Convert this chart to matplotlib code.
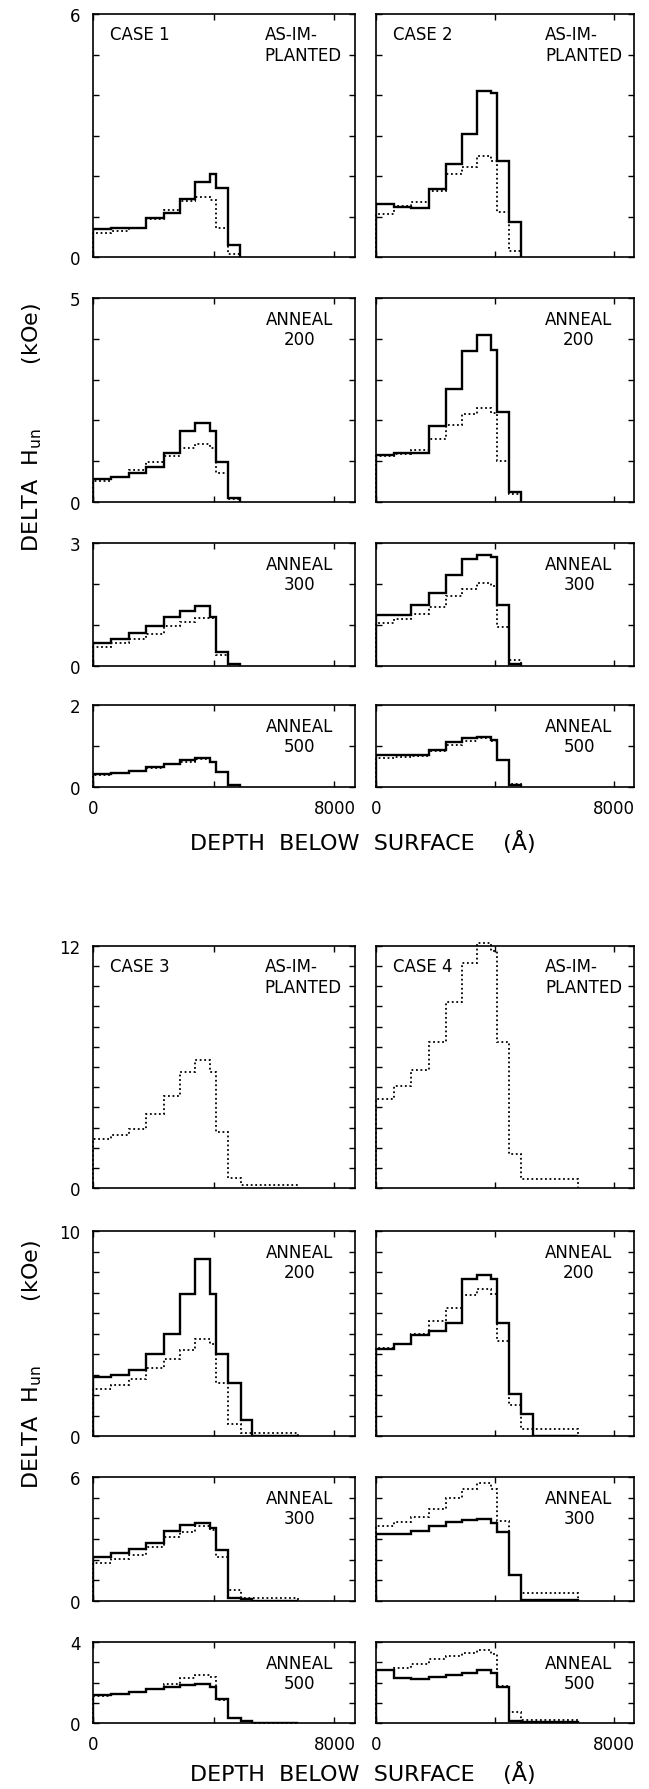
import matplotlib
matplotlib.use("Agg")
import matplotlib.pyplot as plt

plt.rcParams['font.family'] = ['DejaVu Sans']

# bin edges (depth in Angstrom)
EDGES_12 = [0, 590, 1180, 1770, 2350, 2880, 3390, 3880, 4060, 4480, 4880]
EDGES_34 = [0, 590, 1180, 1770, 2350, 2880, 3390, 3880, 4060, 4480, 4890, 5270, 6800]

# case 1 (solid / dotted), kOe
c1_asimp_solid = [0.70, 0.71, 0.72, 0.96, 1.08, 1.44, 1.85, 2.05, 1.71, 0.30]
c1_asimp_dot = [0.59, 0.64, 0.71, 0.94, 1.17, 1.38, 1.48, 1.40, 0.71, 0.08]
c1_a200_solid = [0.56, 0.62, 0.72, 0.87, 1.21, 1.73, 1.93, 1.74, 0.98, 0.11]
c1_a200_dot = [0.52, 0.62, 0.78, 0.98, 1.13, 1.33, 1.43, 1.33, 0.72, 0.08]
c1_a300_solid = [0.55, 0.66, 0.81, 0.97, 1.19, 1.33, 1.47, 1.19, 0.34, 0.05]
c1_a300_dot = [0.47, 0.55, 0.67, 0.79, 0.97, 1.08, 1.18, 1.16, 0.28, 0.04]
c1_a500_solid = [0.32, 0.34, 0.40, 0.49, 0.57, 0.65, 0.70, 0.61, 0.36, 0.06]
c1_a500_dot = [0.30, 0.33, 0.38, 0.46, 0.56, 0.62, 0.68, 0.62, 0.37, 0.05]

# case 2
c2_asimp_solid = [1.31, 1.23, 1.22, 1.68, 2.30, 3.04, 4.09, 4.04, 2.37, 0.86]
c2_asimp_dot = [1.07, 1.27, 1.36, 1.62, 2.05, 2.22, 2.49, 2.38, 1.11, 0.14]
c2_a200_solid = [1.15, 1.19, 1.19, 1.86, 2.78, 3.70, 4.10, 3.72, 2.20, 0.24]
c2_a200_dot = [1.12, 1.17, 1.27, 1.54, 1.89, 2.15, 2.31, 2.19, 1.00, 0.19]
c2_a300_solid = [1.24, 1.24, 1.48, 1.79, 2.22, 2.62, 2.71, 2.65, 1.48, 0.04]
c2_a300_dot = [1.06, 1.14, 1.26, 1.45, 1.71, 1.88, 2.02, 1.96, 0.94, 0.14]
c2_a500_solid = [0.79, 0.79, 0.79, 0.91, 1.09, 1.20, 1.22, 1.14, 0.66, 0.06]
c2_a500_dot = [0.70, 0.72, 0.76, 0.88, 1.03, 1.13, 1.19, 1.12, 0.66, 0.08]

# case 3 (no solid curve as-implanted)
c3_asimp_dot = [2.44, 2.64, 2.93, 3.67, 4.58, 5.73, 6.36, 5.73, 2.80, 0.49, 0.16, 0.16]
c3_a200_solid = [2.89, 2.98, 3.22, 4.00, 4.96, 6.94, 8.62, 6.94, 3.98, 2.60, 0.78, 0.0]
c3_a200_dot = [2.31, 2.47, 2.80, 3.33, 3.74, 4.20, 4.75, 4.47, 2.57, 0.57, 0.16, 0.13]
c3_a300_solid = [2.11, 2.30, 2.54, 2.79, 3.37, 3.68, 3.78, 3.52, 2.48, 0.13, 0.08, 0.0]
c3_a300_dot = [1.86, 2.03, 2.22, 2.63, 3.08, 3.35, 3.65, 3.45, 2.11, 0.52, 0.15, 0.15]
c3_a500_solid = [1.38, 1.43, 1.54, 1.67, 1.80, 1.89, 1.95, 1.80, 1.18, 0.23, 0.11, 0.0]
c3_a500_dot = [1.33, 1.41, 1.52, 1.70, 1.93, 2.20, 2.38, 2.25, 1.15, 0.25, 0.10, 0.0]

# case 4
c4_asimp_dot = [4.39, 5.05, 5.84, 7.26, 9.23, 11.15, 12.13, 11.77, 7.26, 1.70, 0.44, 0.44]
c4_a200_solid = [4.23, 4.50, 4.91, 5.12, 5.50, 7.67, 7.84, 7.67, 5.50, 2.03, 1.06, 0.0]
c4_a200_dot = [4.31, 4.50, 4.96, 5.61, 6.26, 6.86, 7.15, 6.91, 4.63, 1.50, 0.36, 0.36]
c4_a300_solid = [3.24, 3.24, 3.40, 3.61, 3.81, 3.92, 3.97, 3.78, 3.32, 1.25, 0.05, 0.05]
c4_a300_dot = [3.61, 3.84, 4.05, 4.46, 4.98, 5.43, 5.71, 5.43, 3.89, 1.25, 0.37, 0.37]
c4_a500_solid = [2.62, 2.21, 2.16, 2.28, 2.36, 2.49, 2.61, 2.46, 1.79, 0.11, 0.07, 0.07]
c4_a500_dot = [2.62, 2.74, 2.90, 3.15, 3.31, 3.48, 3.59, 3.39, 1.84, 0.52, 0.15, 0.15]

ROW_LABELS = [None, "200", "300", "500"]
YMAX = [6, 5, 3, 2, 12, 10, 6, 4]

# layout in pixels
W, H = 649, 1790
COL_X = [93, 376]
COL_W = [262, 258]
ROW_TOP = [15, 299, 544, 706, 947, 1232, 1478, 1643]
ROW_H = [243, 204, 123, 82, 242, 205, 124, 81]

fig = plt.figure(figsize=(W / 100, H / 100), dpi=100)

panels = [
    # (row, col, edges, solid, dotted, case)
    (0, 0, EDGES_12, c1_asimp_solid, c1_asimp_dot, 1),
    (1, 0, EDGES_12, c1_a200_solid, c1_a200_dot, None),
    (2, 0, EDGES_12, c1_a300_solid, c1_a300_dot, None),
    (3, 0, EDGES_12, c1_a500_solid, c1_a500_dot, None),
    (0, 1, EDGES_12, c2_asimp_solid, c2_asimp_dot, 2),
    (1, 1, EDGES_12, c2_a200_solid, c2_a200_dot, None),
    (2, 1, EDGES_12, c2_a300_solid, c2_a300_dot, None),
    (3, 1, EDGES_12, c2_a500_solid, c2_a500_dot, None),
    (4, 0, EDGES_34, None, c3_asimp_dot, 3),
    (5, 0, EDGES_34, c3_a200_solid, c3_a200_dot, None),
    (6, 0, EDGES_34, c3_a300_solid, c3_a300_dot, None),
    (7, 0, EDGES_34, c3_a500_solid, c3_a500_dot, None),
    (4, 1, EDGES_34, None, c4_asimp_dot, 4),
    (5, 1, EDGES_34, c4_a200_solid, c4_a200_dot, None),
    (6, 1, EDGES_34, c4_a300_solid, c4_a300_dot, None),
    (7, 1, EDGES_34, c4_a500_solid, c4_a500_dot, None),
]

TXT = 12
for row, col, edges, solid, dotted, case in panels:
    rect = [COL_X[col] / W, 1 - (ROW_TOP[row] + ROW_H[row]) / H,
            COL_W[col] / W, ROW_H[row] / H]
    ax = fig.add_axes(rect)
    ymax = YMAX[row]
    if solid is not None:
        ax.stairs(solid, edges, baseline=0, color='black', lw=1.7)
    ax.stairs(dotted, edges, baseline=0, color='black', lw=1.3,
              linestyle=(0, (1, 1.5)), clip_on=False)

    ax.set_xlim(0, 8680)
    ax.set_ylim(0, ymax)
    ax.set_xticks([0, 4000, 8000])
    ax.set_yticks(range(ymax + 1))
    ax.tick_params(direction='in', length=4, width=1, top=True, right=True,
                   labelsize=TXT, pad=9)
    for s in ax.spines.values():
        s.set_linewidth(1.2)

    if col == 0:
        ax.set_yticklabels([str(v) if v in (0, ymax) else '' for v in range(ymax + 1)])
    else:
        ax.tick_params(labelleft=False)
    if row in (3, 7):
        ax.set_xticklabels(['0', '', '8000'])
    else:
        ax.tick_params(labelbottom=False)

    k = row % 4
    def put(s, x, dy, ha):
        ax.annotate(s, xy=(x, 1), xycoords='axes fraction', xytext=(0, -dy),
                    textcoords='offset pixels', ha=ha, va='center', fontsize=TXT)
    if k == 0:
        put(f"CASE {case}", 0.065, 20, 'left')
        put("AS-IM-", 0.655, 20, 'left')
        put("PLANTED", 0.655, 41, 'left')
    else:
        put("ANNEAL", 0.787, 21, 'center')
        put(ROW_LABELS[k], 0.787, 41, 'center')

# axis titles
for yc in (843, 1774):
    fig.text(363 / W, 1 - yc / H, "DEPTH  BELOW  SURFACE    (Å)",
             ha='center', va='center', fontsize=16)
for yc in (428, 1365):
    fig.text(32 / W, 1 - yc / H, r"DELTA  H$_{\rm un}$         (kOe)",
             ha='center', va='center', rotation=90, fontsize=16)

fig.savefig("out.png", dpi=100)
